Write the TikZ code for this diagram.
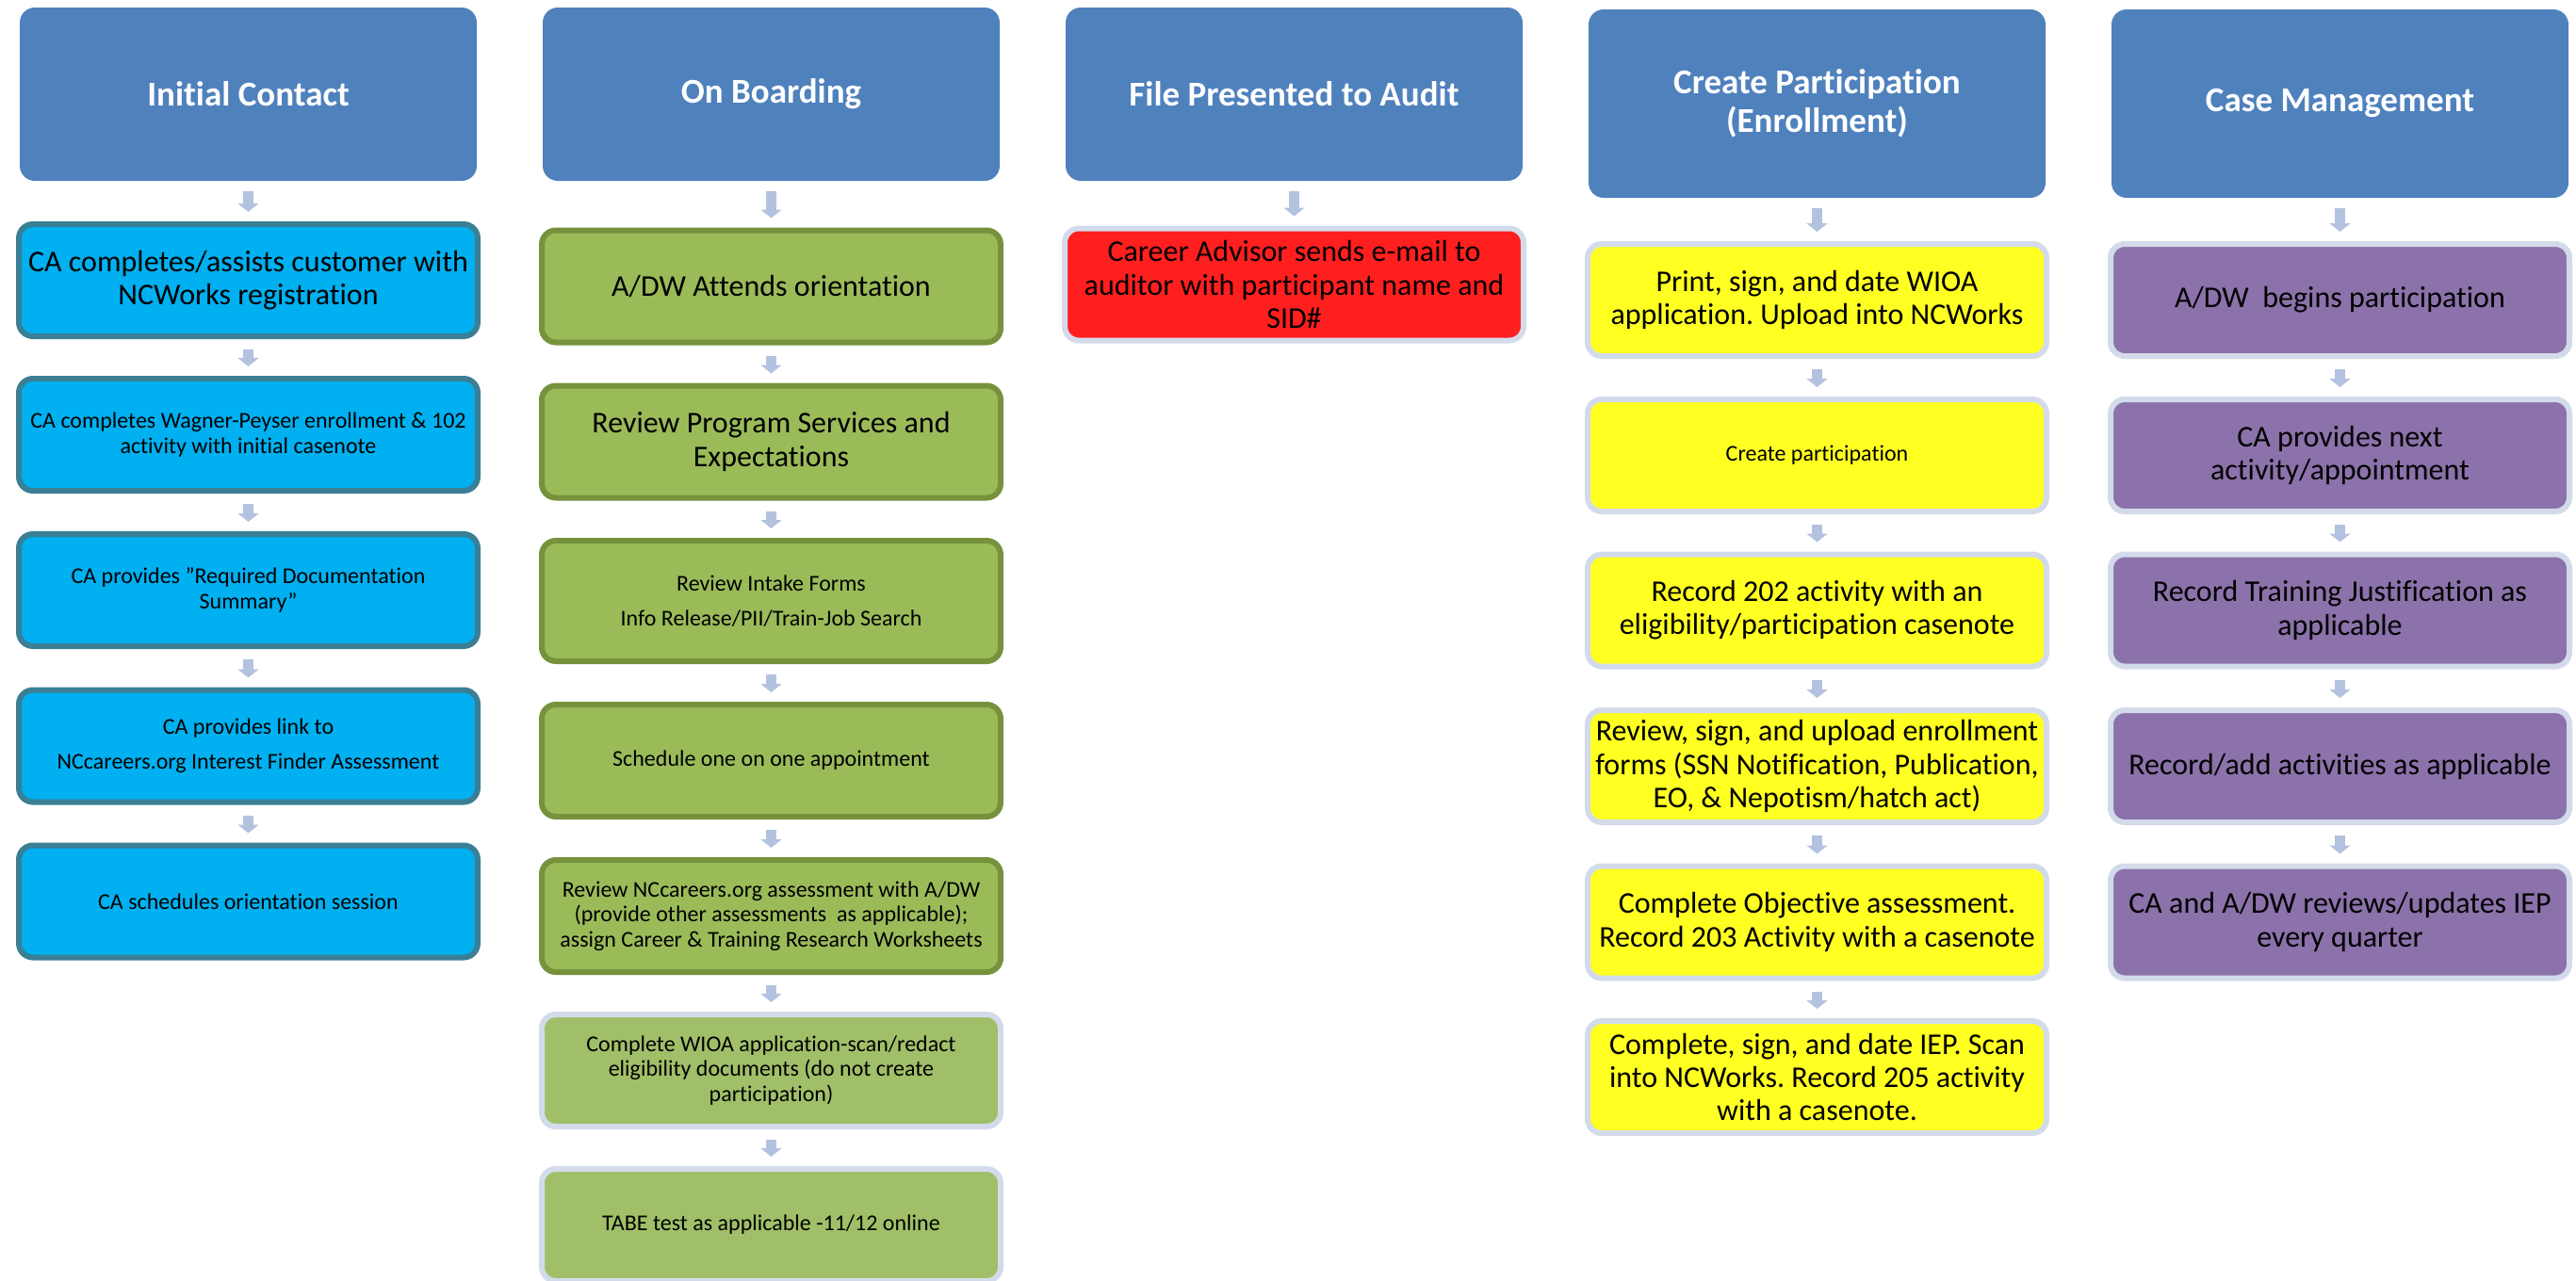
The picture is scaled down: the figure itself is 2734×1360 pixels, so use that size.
\documentclass[tikz,border=0pt]{standalone}
\usepackage{fontspec}
\setmainfont{Carlito}[Ligatures={ResetAll,NoCommon}]
\usetikzlibrary{arrows.meta}
\frenchspacing

\definecolor{bleutitre}{HTML}{4F81BD}
\definecolor{flechebleu}{HTML}{B3C2DF}
\definecolor{cyanfond}{HTML}{00B0F0}
\definecolor{cyanbord}{HTML}{3A7F95}
\definecolor{vertfond}{HTML}{9BBB59}
\definecolor{vertbord}{HTML}{76923C}
\definecolor{vertclair}{HTML}{A1BF68}
\definecolor{bordclair}{HTML}{D3DBEA}
\definecolor{rougefond}{HTML}{FF1F1F}
\definecolor{jaunefond}{HTML}{FFFF21}
\definecolor{violetfond}{HTML}{8B72AA}

\begin{document}
\begin{tikzpicture}[x=1pt,y=-1pt]
	\tikzstyle{fleche}=[line width=11pt,draw=flechebleu,-{Triangle[width=22pt,length=9pt]},shorten <=11pt,shorten >=10pt]
	\tikzset{titre/.style={rectangle,rounded corners=16pt,fill=bleutitre,text=white,align=center,inner sep=0pt,minimum width=485pt,font=\bfseries\fontsize{37}{41}\selectfont},
		etape/.style={rectangle,rounded corners=15pt,line width=6pt,align=center,inner sep=0pt,minimum width=487pt,minimum height=119pt,font=\fontsize{32}{35.2}\selectfont},
		petit/.style={font=\fontsize{24}{26.4}\selectfont},
		cyan/.style={etape,fill=cyanfond,draw=cyanbord},
		vert/.style={etape,fill=vertfond,draw=vertbord},
		vertpale/.style={etape,fill=vertclair,draw=bordclair},
		rouge/.style={etape,fill=rougefond,draw=bordclair},
		jaune/.style={etape,fill=jaunefond,draw=bordclair},
		violet/.style={etape,fill=violetfond,draw=bordclair}}
	\useasboundingbox (0,0) rectangle (2734,1360);
	% titres
	\node[titre,minimum height=184pt] (h1) at (263.5,100) {Initial Contact};
	\node[titre,minimum height=184pt] (h2) at (818.5,100) {On Boarding};
	\node[titre,minimum height=184pt] (h3) at (1373.5,100) {File Presented to Audit};
	\node[titre,minimum height=200pt] (h4) at (1928.5,110) {Create Participation\\(Enrollment)};
	\node[titre,minimum height=200pt] (h5) at (2483.5,110) {Case Management};
	% Initial Contact
	\node[cyan] (a1) at (263.5,297.5) {CA completes/assists customer with\\NCWorks registration};
	\node[cyan,petit] (a2) at (263.5,461.5) {CA completes Wagner-Peyser enrollment \& 102\\activity with initial casenote};
	\node[cyan,petit] (a3) at (263.5,626.5) {CA provides "Required Documentation\\Summary"};
	\node[cyan,petit] (a4) at (263.5,792) {CA provides link to\\[11pt]NCcareers.org Interest Finder Assessment};
	\node[cyan,petit] (a5) at (263.5,957) {CA schedules orientation session};
	% On Boarding
	\node[vert] (b1) at (818.5,304) {A/DW Attends orientation};
	\node[vert] (b2) at (818.5,469) {Review Program Services and\\Expectations};
	\node[vert,petit,minimum height=128pt] (b3) at (818.5,638) {Review Intake Forms\\[11pt]Info Release/PII/Train-Job Search};
	\node[vert,petit] (b4) at (818.5,807.5) {Schedule one on one appointment};
	\node[vert,petit] (b5) at (818.5,972.5) {Review NCcareers.org assessment with A/DW\\(provide other assessments\ \ as applicable);\\assign Career \& Training Research Worksheets};
	\node[vertpale,petit] (b6) at (818.5,1136.5) {Complete WIOA application-scan/redact\\eligibility documents (do not create\\participation)};
	\node[vertpale,petit] (b7) at (818.5,1300.5) {TABE test as applicable -11/12 online};
	% File Presented to Audit
	\node[rouge] (c1) at (1373.5,302) {Career Advisor sends e-mail to\\auditor with participant name and\\SID\#};
	% Create Participation
	\node[jaune] (d1) at (1928.5,318.5) {Print, sign, and date WIOA\\application. Upload into NCWorks};
	\node[jaune,petit] (d2) at (1928.5,483.5) {Create participation};
	\node[jaune] (d3) at (1928.5,648) {Record 202 activity with an\\eligibility/participation casenote};
	\node[jaune] (d4) at (1928.5,813.5) {Review, sign, and upload enrollment\\forms (SSN Notification, Publication,\\EO, \& Nepotism/hatch act)};
	\node[jaune] (d5) at (1928.5,979) {Complete Objective assessment.\\Record 203 Activity with a casenote};
	\node[jaune] (d6) at (1928.5,1143.5) {Complete, sign, and date IEP. Scan\\into NCWorks. Record 205 activity\\with a casenote.};
	% Case Management
	\node[violet] (e1) at (2483.5,318.5) {A/DW\ \ begins participation};
	\node[violet] (e2) at (2483.5,483.5) {CA provides next\\activity/appointment};
	\node[violet] (e3) at (2483.5,648) {Record Training Justification as\\applicable};
	\node[violet] (e4) at (2483.5,813.5) {Record/add activities as applicable};
	\node[violet] (e5) at (2483.5,979) {CA and A/DW reviews/updates IEP\\every quarter};
	% fleches
	\draw[fleche] (h1) -- (a1);
	\draw[fleche] (a1) -- (a2);
	\draw[fleche] (a2) -- (a3);
	\draw[fleche] (a3) -- (a4);
	\draw[fleche] (a4) -- (a5);
	\draw[fleche] (h2) -- (b1);
	\draw[fleche] (b1) -- (b2);
	\draw[fleche] (b2) -- (b3);
	\draw[fleche] (b3) -- (b4);
	\draw[fleche] (b4) -- (b5);
	\draw[fleche] (b5) -- (b6);
	\draw[fleche] (b6) -- (b7);
	\draw[fleche] (h3) -- (c1);
	\draw[fleche] (h4) -- (d1);
	\draw[fleche] (d1) -- (d2);
	\draw[fleche] (d2) -- (d3);
	\draw[fleche] (d3) -- (d4);
	\draw[fleche] (d4) -- (d5);
	\draw[fleche] (d5) -- (d6);
	\draw[fleche] (h5) -- (e1);
	\draw[fleche] (e1) -- (e2);
	\draw[fleche] (e2) -- (e3);
	\draw[fleche] (e3) -- (e4);
	\draw[fleche] (e4) -- (e5);
\end{tikzpicture}
\end{document}
